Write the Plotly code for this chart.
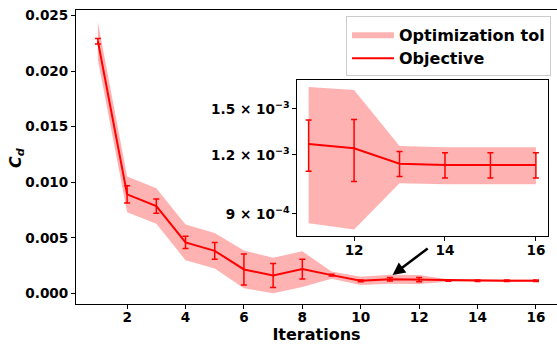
import numpy as np
import plotly.graph_objects as go

# Drag coefficient per optimisation iteration
iterations = [1, 2, 3, 4, 5, 6, 7, 8, 9, 10, 11, 12, 13, 14, 15, 16]
cd_values = [0.02270, 0.00891, 0.00786, 0.00459, 0.00383, 0.00215, 0.00161, 0.00218,
             0.00164, 0.00113, 0.001265, 0.001239, 0.001149, 0.001142, 0.001142, 0.001142]
cd_error = [0.00025, 0.00077, 0.00064, 0.00055, 0.00075, 0.00140, 0.00108, 0.00089,
            0.00008, 0.00008, 0.000157, 0.000185, 0.000070, 0.000070, 0.000070, 0.000070]
opt_tol = [0.0017, 0.0016, 0.0016, 0.0016, 0.0016, 0.0017, 0.0016, 0.0016,
           0.00033, 0.00037, 0.000405, 0.000405, 0.000104, 0.000103, 0.000103, 0.000103]

main_yticks = [0.000, 0.005, 0.010, 0.015, 0.020, 0.025]
inset_yticks = [9e-4, 1.2e-3, 1.5e-3]
inset_yticktext = ["9 × 10<sup>−4</sup>", "1.2 × 10<sup>−3</sup>", "1.5 × 10<sup>−3</sup>"]
inset_start = 10  # inset shows iterations 11..16

it = np.array(iterations, dtype=float)
cd = np.array(cd_values)
tol = np.array(opt_tol)
upper = cd + tol
lower = cd - tol

RED = "red"
BAND = "rgba(255,0,0,0.3)"
FONT = "DejaVu Sans"


def band_trace(xs, lo, hi, xa, ya, show):
    return go.Scatter(
        x=np.concatenate([xs, xs[::-1]]),
        y=np.concatenate([hi, lo[::-1]]),
        fill="toself", fillcolor=BAND, line=dict(width=0),
        mode="lines", name="Optimization tol", showlegend=show,
        hoverinfo="skip", xaxis=xa, yaxis=ya,
    )


def objective_trace(xs, ys, err, xa, ya, show):
    return go.Scatter(
        x=xs, y=ys, mode="lines", name="Objective", showlegend=show,
        line=dict(color=RED, width=2),
        error_y=dict(type="data", array=err, color=RED, thickness=1.5, width=3),
        xaxis=xa, yaxis=ya,
    )


fig = go.Figure()
fig.add_trace(band_trace(it, lower, upper, "x", "y", True))
fig.add_trace(objective_trace(it, cd, cd_error, "x", "y", True))

s = slice(inset_start, None)
fig.add_trace(band_trace(it[s], lower[s], upper[s], "x2", "y2", False))
fig.add_trace(objective_trace(it[s], cd[s], np.array(cd_error)[s], "x2", "y2", False))

tickfont = dict(family=FONT, size=13.6, color="black", weight="bold")
axis_common = dict(showgrid=False, zeroline=False, showline=True, linecolor="black",
                   linewidth=1, ticks="outside", ticklen=4, tickwidth=1,
                   tickcolor="black", tickfont=tickfont)

fig.update_layout(
    width=557, height=345,
    margin=dict(l=76, r=0, t=10, b=41),
    paper_bgcolor="white", plot_bgcolor="white",
    font=dict(family=FONT, color="black"),
    xaxis=dict(range=[0.25, 16.72], tickvals=list(range(2, 17, 2)), mirror=True,
               ticklabelstandoff=-3,
               title=dict(text="<b>Iterations</b>", font=dict(size=16), standoff=4),
               **axis_common),
    yaxis=dict(range=[-0.00096, 0.02551], tickvals=main_yticks,
               ticktext=[f"{v:.3f}" for v in main_yticks],
               **axis_common),
    xaxis2=dict(domain=[0.460, 0.9807], anchor="y2", range=[10.75, 16.26],
                tickvals=[12, 14, 16], mirror=True, ticklabelstandoff=-2, **axis_common),
    yaxis2=dict(domain=[0.2323, 0.7619], anchor="x2", type="log",
                range=[np.log10(8.09e-4), np.log10(1.727e-3)],
                tickvals=inset_yticks, ticktext=inset_yticktext, mirror=True,
                **axis_common),
    legend=dict(x=0.9875, xanchor="right", y=0.978, yanchor="top", itemwidth=42,
                bgcolor="rgba(255,255,255,0.85)", bordercolor="#cccccc", borderwidth=1,
                font=dict(family=FONT, size=16, color="black", weight="bold")),
    shapes=[dict(type="rect", xref="x2 domain", yref="y2 domain", x0=0, x1=1, y0=0, y1=1,
                 fillcolor="white", line=dict(width=0), layer="below")],
    annotations=[
        dict(x=11.09, y=0.00165, xref="x", yref="y", ax=36.6, ay=-27.7,
             text="", showarrow=True, arrowhead=2, arrowsize=1,
             arrowwidth=2.5, arrowcolor="black"),
        # y-axis label
        dict(x=-0.125, y=0.5, xref="paper", yref="paper", xanchor="center", yanchor="middle",
             text="<b><i>C</i><sub><i>d</i></sub></b>", textangle=-90, showarrow=False,
             font=dict(family=FONT, size=16, color="black")),
    ],
)

fig.write_html("out.html")
